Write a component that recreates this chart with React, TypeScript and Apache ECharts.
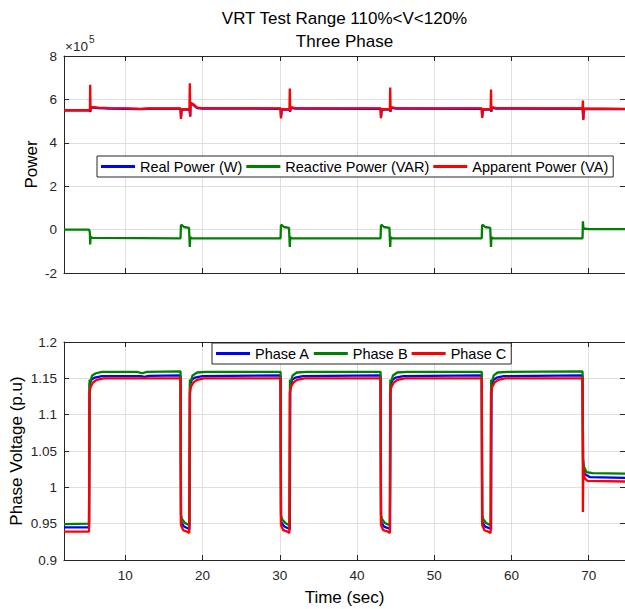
import React, { useEffect, useRef } from 'react';
import * as echarts from 'echarts';

// ---------- data (time in sec) ----------
const X_MIN = 2.06;
const X_MAX = 74.7;
const X_TICKS = [10, 20, 30, 40, 50, 60, 70];

const POWER_MIN = -2;
const POWER_MAX = 8;
const POWER_STEP = 2;
const VOLT_MIN = 0.9;
const VOLT_MAX = 1.2;
const VOLT_STEP = 0.05;

const POWER_NAMES = ['Real Power (W)', 'Reactive Power (VAR)', 'Apparent Power (VA)'];
const PHASE_NAMES = ['Phase A', 'Phase B', 'Phase C'];

// power values in units of 1e5
const realPower: number[][] = [
  [2.06, 5.49], [5.3, 5.49], [5.42, 5.5], [5.46, 5.42], [5.52, 5.63], [6.5, 5.6], [8, 5.58], [10, 5.57], [12, 5.55], [13, 5.57],
  [17.15, 5.57], [17.22, 5.2], [17.3, 5.53], [18.3, 5.53], [18.4, 5.22], [18.45, 5.82], [18.8, 5.75], [19.3, 5.6], [20, 5.58],
  [30.1, 5.57], [30.17, 5.2], [30.25, 5.53], [31.25, 5.54], [31.34, 5.44], [31.4, 5.62], [32, 5.58],
  [43.05, 5.57], [43.12, 5.2], [43.2, 5.53], [44.25, 5.54], [44.34, 5.44], [44.4, 5.62], [45, 5.58],
  [56.15, 5.57], [56.22, 5.2], [56.3, 5.53], [57.3, 5.54], [57.39, 5.44], [57.45, 5.62], [58, 5.58],
  [69.2, 5.57], [69.3, 5.1], [69.36, 5.56], [74.7, 5.55],
];
const reactivePower: number[][] = [
  [2.06, 0.0], [5.3, 0.0], [5.4, -0.1], [5.45, -0.68], [5.5, -0.32], [5.7, -0.38], [12, -0.39],
  [17.15, -0.4], [17.2, 0.2], [17.35, 0.2], [17.6, 0.12], [18.25, 0.08], [18.3, -0.4], [18.35, -0.8], [18.4, -0.35], [18.6, -0.4],
  [30.1, -0.4], [30.15, 0.2], [30.3, 0.2], [30.55, 0.12], [31.2, 0.08], [31.25, -0.4], [31.3, -0.8], [31.35, -0.35], [31.55, -0.4],
  [43.05, -0.4], [43.1, 0.2], [43.25, 0.2], [43.5, 0.12], [44.2, 0.08], [44.25, -0.4], [44.3, -0.8], [44.35, -0.35], [44.55, -0.4],
  [56.15, -0.4], [56.2, 0.2], [56.35, 0.2], [56.6, 0.12], [57.25, 0.08], [57.3, -0.4], [57.35, -0.8], [57.4, -0.35], [57.6, -0.4],
  [69.2, -0.4], [69.25, 0.38], [69.32, 0.05], [70, 0.02], [74.7, 0.02],
];
const apparentPower: number[][] = [
  [2.06, 5.5], [5.3, 5.5], [5.42, 5.52], [5.45, 6.68], [5.5, 5.45], [5.55, 5.66], [6.5, 5.62], [8, 5.6], [10, 5.59], [12, 5.56], [13, 5.58],
  [17.15, 5.58], [17.2, 5.1], [17.27, 5.55], [18.3, 5.55], [18.35, 6.74], [18.4, 5.2], [18.45, 5.85], [18.8, 5.78], [19.3, 5.62], [20, 5.6],
  [30.1, 5.59], [30.15, 5.12], [30.22, 5.55], [31.25, 5.56], [31.3, 6.5], [31.35, 5.45], [31.4, 5.65], [32, 5.6],
  [43.05, 5.59], [43.1, 5.13], [43.17, 5.55], [44.25, 5.56], [44.3, 6.55], [44.35, 5.45], [44.4, 5.65], [45, 5.6],
  [56.15, 5.59], [56.2, 5.15], [56.27, 5.55], [57.3, 5.56], [57.35, 6.45], [57.4, 5.45], [57.45, 5.65], [58, 5.6],
  [69.2, 5.58], [69.25, 5.95], [69.3, 5.05], [69.35, 5.58], [74.7, 5.56],
];

// phase voltages in p.u.
const phaseA: number[][] = [
  [2.06, 0.945], [5.3, 0.945], [5.38, 1.142], [5.6, 1.148], [6.0, 1.151], [7.0, 1.153], [12.0, 1.153], [12.5, 1.152], [13.0, 1.1535],
  [17.15, 1.154], [17.22, 0.952], [17.6, 0.946], [18.2, 0.943], [18.3, 0.942], [18.38, 1.141], [18.6, 1.148], [19.0, 1.151], [20, 1.153],
  [30.1, 1.154], [30.17, 0.952], [30.6, 0.946], [31.2, 0.943], [31.3, 0.942], [31.36, 1.141], [31.6, 1.148], [32, 1.151], [33, 1.153],
  [43.05, 1.154], [43.12, 0.952], [43.5, 0.946], [44.2, 0.943], [44.28, 0.942], [44.34, 1.141], [44.6, 1.148], [45, 1.151], [46, 1.153],
  [56.15, 1.154], [56.22, 0.952], [56.6, 0.946], [57.3, 0.943], [57.36, 0.942], [57.42, 1.141], [57.7, 1.148], [58.1, 1.151], [59, 1.153],
  [69.2, 1.154], [69.28, 1.03], [69.5, 1.018], [70.2, 1.014], [74.7, 1.013],
];
const phaseB: number[][] = [
  [2.06, 0.9495], [5.3, 0.95], [5.37, 1.148], [5.5, 1.146], [5.7, 1.154], [6.2, 1.157], [7.0, 1.159], [11.5, 1.159], [12.2, 1.157], [12.8, 1.159],
  [17.15, 1.1595], [17.2, 0.962], [17.35, 0.956], [17.7, 0.951], [18.3, 0.948], [18.36, 1.148], [18.5, 1.146], [18.7, 1.154], [19.3, 1.158], [20.5, 1.159],
  [30.1, 1.159], [30.15, 0.962], [30.3, 0.956], [30.7, 0.951], [31.25, 0.948], [31.32, 1.148], [31.45, 1.146], [31.65, 1.154], [32.2, 1.158], [33.5, 1.159],
  [43.05, 1.159], [43.1, 0.962], [43.25, 0.956], [43.6, 0.951], [44.25, 0.948], [44.32, 1.148], [44.45, 1.146], [44.65, 1.154], [45.2, 1.158], [46.5, 1.159],
  [56.15, 1.159], [56.2, 0.962], [56.35, 0.956], [56.7, 0.951], [57.3, 0.948], [57.37, 1.148], [57.5, 1.146], [57.7, 1.154], [58.2, 1.158], [59.5, 1.159],
  [69.2, 1.1595], [69.27, 1.039], [69.4, 1.028], [69.7, 1.021], [70.5, 1.0195], [74.7, 1.019],
];
const phaseC: number[][] = [
  [2.06, 0.939], [5.3, 0.939], [5.36, 1.13], [5.5, 1.138], [5.8, 1.144], [6.3, 1.148], [7.2, 1.15],
  [17.15, 1.15], [17.2, 0.948], [17.5, 0.941], [18.0, 0.939], [18.28, 0.937], [18.35, 1.13], [18.5, 1.138], [18.8, 1.144], [19.3, 1.148], [20.2, 1.15],
  [30.1, 1.15], [30.15, 0.948], [30.45, 0.941], [31.0, 0.939], [31.25, 0.937], [31.3, 1.13], [31.45, 1.138], [31.75, 1.144], [32.25, 1.148], [33.2, 1.15],
  [43.05, 1.15], [43.1, 0.948], [43.4, 0.941], [44.0, 0.939], [44.25, 0.937], [44.3, 1.13], [44.45, 1.138], [44.75, 1.144], [45.25, 1.148], [46.2, 1.15],
  [56.15, 1.15], [56.2, 0.948], [56.5, 0.941], [57.0, 0.939], [57.3, 0.937], [57.35, 1.13], [57.5, 1.138], [57.8, 1.144], [58.3, 1.148], [59.2, 1.15],
  [69.2, 1.15], [69.25, 0.966], [69.3, 1.025], [69.45, 1.013], [69.8, 1.009], [74.7, 1.008],
];

// ---------- styling ----------
const FONT = '"Liberation Sans", Arial, Helvetica, sans-serif';
const AX = '#262626';
const GRIDC = '#dfdfdf';
const BLUE = '#0000ff';
const GREEN = '#008000';
const RED = '#ff0000';

function makeX(gridIndex: number, position: string, labels: boolean) {
  return {
    type: 'value',
    gridIndex,
    position,
    min: X_MIN,
    max: X_MAX,
    axisLine: { show: true, onZero: false, lineStyle: { color: AX, width: 1 } },
    axisTick: { show: true, inside: true, length: 5, lineStyle: { color: AX }, customValues: X_TICKS },
    axisLabel: { show: labels, customValues: X_TICKS, color: AX, fontSize: 13.5, fontFamily: FONT, margin: 8 },
    splitLine: { show: position === 'bottom', lineStyle: { color: GRIDC, width: 1 } },
  };
}

function makeY(gridIndex: number, position: string, min: number, max: number, interval: number, labels: boolean) {
  return {
    type: 'value',
    gridIndex,
    position,
    min,
    max,
    interval,
    axisLine: { show: true, onZero: false, lineStyle: { color: AX, width: 1 } },
    axisTick: { show: true, inside: true, length: 5, lineStyle: { color: AX } },
    axisLabel: { show: labels, color: AX, fontSize: 13.5, fontFamily: FONT, margin: 7 },
    splitLine: { show: position === 'left', lineStyle: { color: GRIDC, width: 1 } },
  };
}

function line(name: string, data: number[][], color: string, xi: number, yi: number) {
  return {
    name,
    type: 'line',
    xAxisIndex: xi,
    yAxisIndex: yi,
    data,
    symbol: 'none',
    showSymbol: false,
    lineStyle: { color, width: 2.3 },
    itemStyle: { color },
    clip: true,
  };
}

function legend(names: string[], left: number, top: number) {
  return {
    data: names,
    left,
    top,
    orient: 'horizontal',
    icon: 'rect',
    itemWidth: 34,
    itemHeight: 3,
    itemGap: 4,
    padding: [3, 5, 3, 4],
    borderColor: AX,
    borderWidth: 1,
    backgroundColor: '#ffffff',
    selectedMode: false,
    textStyle: { fontSize: 14.5, color: '#000', fontFamily: FONT },
  };
}

export default function App() {
  const ref = useRef<HTMLDivElement>(null);
  useEffect(() => {
    document.body.style.margin = '0';
    if (!ref.current) return;
    const chart = echarts.init(ref.current, null, { renderer: 'svg' });
    chart.setOption({
      animation: false,
      backgroundColor: '#ffffff',
      textStyle: { fontFamily: FONT },
      grid: [
        { left: 64, top: 56, width: 561, height: 217, outerBoundsMode: 'none' },
        { left: 64, top: 342, width: 561, height: 218, outerBoundsMode: 'none' },
      ],
      xAxis: [makeX(0, 'bottom', false), makeX(0, 'top', false), makeX(1, 'bottom', true), makeX(1, 'top', false)],
      yAxis: [
        makeY(0, 'left', POWER_MIN, POWER_MAX, POWER_STEP, true),
        makeY(0, 'right', POWER_MIN, POWER_MAX, POWER_STEP, false),
        makeY(1, 'left', VOLT_MIN, VOLT_MAX, VOLT_STEP, true),
        makeY(1, 'right', VOLT_MIN, VOLT_MAX, VOLT_STEP, false),
      ],
      legend: [legend(POWER_NAMES, 97, 156), legend(PHASE_NAMES, 212, 343)],
      series: [
        line(POWER_NAMES[0], realPower, BLUE, 0, 0),
        line(POWER_NAMES[1], reactivePower, GREEN, 0, 0),
        line(POWER_NAMES[2], apparentPower, RED, 0, 0),
        line(PHASE_NAMES[0], phaseA, BLUE, 2, 2),
        line(PHASE_NAMES[1], phaseB, GREEN, 2, 2),
        line(PHASE_NAMES[2], phaseC, RED, 2, 2),
      ],
      graphic: [
        { type: 'text', x: 344.5, y: 18, style: { text: 'VRT Test Range 110%<V<120%', fontSize: 17, fontFamily: FONT, fill: '#000', textAlign: 'center', textVerticalAlign: 'middle' } },
        { type: 'text', x: 344.5, y: 41, style: { text: 'Three Phase', fontSize: 17, fontFamily: FONT, fill: '#000', textAlign: 'center', textVerticalAlign: 'middle' } },
        { type: 'text', x: 65, y: 46, style: { text: '×10', fontSize: 13.5, fontFamily: FONT, fill: AX, textAlign: 'left', textVerticalAlign: 'middle' } },
        { type: 'text', x: 89, y: 39, style: { text: '5', fontSize: 10, fontFamily: FONT, fill: AX, textAlign: 'left', textVerticalAlign: 'middle' } },
        { type: 'text', x: 31, y: 164.5, rotation: Math.PI / 2, style: { text: 'Power', fontSize: 17, fontFamily: FONT, fill: '#000', textAlign: 'center', textVerticalAlign: 'middle' } },
        { type: 'text', x: 16, y: 451, rotation: Math.PI / 2, style: { text: 'Phase Voltage (p.u)', fontSize: 17, fontFamily: FONT, fill: '#000', textAlign: 'center', textVerticalAlign: 'middle' } },
        { type: 'text', x: 344.5, y: 597, style: { text: 'Time (sec)', fontSize: 17, fontFamily: FONT, fill: '#000', textAlign: 'center', textVerticalAlign: 'middle' } },
      ],
    });
    return () => chart.dispose();
  }, []);
  return <div ref={ref} style={{ width: 625, height: 609 }} />;
}
